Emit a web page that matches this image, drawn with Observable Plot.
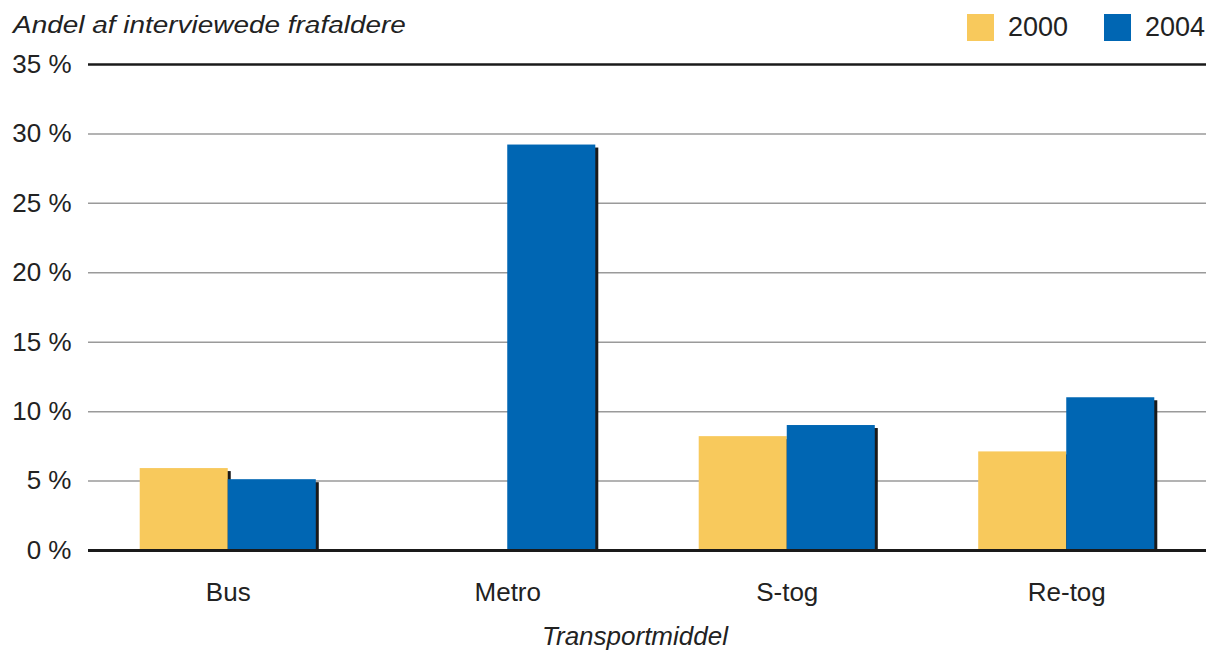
<!DOCTYPE html>
<html><head><meta charset="utf-8">
<script src="https://cdn.jsdelivr.net/npm/d3@7"></script>
<script src="https://cdn.jsdelivr.net/npm/@observablehq/plot@0.6"></script>
<style>
body{margin:0;background:#fff;font-family:"Liberation Sans",Arial,sans-serif;color:#222}
#wrap{position:relative;width:1209px;height:650px;overflow:hidden}
#wrap svg{position:absolute;left:0;top:0}
.t{position:absolute;font-size:26px;line-height:26px;white-space:nowrap}
.i{font-style:italic}
.sw{position:absolute;width:27px;height:27px}
</style></head>
<body>
<div id="wrap">
  <div id="chart"></div>
  <div class="t i" style="left:13px;top:13px;font-size:24.5px;line-height:24.5px;transform:scaleX(1.14);transform-origin:0 0">Andel af interviewede frafaldere</div>
  <div id="legend"></div>
  <div class="t i" style="left:635px;top:623px;transform:translateX(-50%)">Transportmiddel</div>
</div>
<script>
const categories = ["Bus", "Metro", "S-tog", "Re-tog"];
const series = ["2000", "2004"];
const values2000 = [5.9, null, 8.2, 7.1];
const values2004 = [5.1, 29.2, 9.0, 11.0];
const yTicks = [0, 5, 10, 15, 20, 25, 30, 35];
const colors = ["#F8C95C", "#0066B3"];

// each category occupies one unit of the x scale; the two bars of a group share its middle
const groupWidth = 0.63;
const rows = [];
categories.forEach((c, i) => {
  const start = i + (1 - groupWidth) / 2;
  const half = groupWidth / 2;
  [values2000, values2004].forEach((vals, s) => {
    if (vals[i] != null) rows.push({cat: c, year: series[s], value: vals[i], x1: start + s * half, x2: start + (s + 1) * half});
  });
});

const chart = Plot.plot({
  width: 1209,
  height: 650,
  marginTop: 64,
  marginBottom: 100,
  marginLeft: 88,
  marginRight: 3,
  style: {fontFamily: "Liberation Sans, Arial, sans-serif", fontSize: "26px", color: "#222", background: "transparent"},
  x: {domain: [0, categories.length], ticks: categories.map((c, i) => i + 0.5), tickFormat: d => categories[Math.floor(d)], tickSize: 0, tickPadding: 32, label: null},
  y: {domain: [0, 35], ticks: yTicks, tickFormat: d => d + " %", tickSize: 0, tickPadding: 17, label: null},
  color: {domain: series, range: colors},
  marks: [
    Plot.ruleY(yTicks.filter(d => d > 0 && d < 35), {stroke: "#9a9a9a", strokeWidth: 1.5}),
    Plot.ruleY([35], {stroke: "#1a1a1a", strokeWidth: 2.5}),
    Plot.rectY(rows, {x1: "x1", x2: "x2", y: "value", fill: "#1a1a1a", dx: 3, dy: 3, insetBottom: 3}),
    Plot.rectY(rows, {x1: "x1", x2: "x2", y: "value", fill: "year"}),
    Plot.ruleY([0], {stroke: "#1a1a1a", strokeWidth: 3})
  ]
});
document.getElementById("chart").appendChild(chart);

const legend = document.getElementById("legend");
const lx = [967, 1104];
series.forEach((s, i) => {
  const sw = document.createElement("div");
  sw.className = "sw";
  sw.style.left = lx[i] + "px";
  sw.style.top = "14px";
  sw.style.background = colors[i];
  legend.appendChild(sw);
  const t = document.createElement("div");
  t.className = "t";
  t.style.left = (lx[i] + 41) + "px";
  t.style.top = "14px";
  t.style.fontSize = "27px";
  t.style.lineHeight = "27px";
  t.textContent = s;
  legend.appendChild(t);
});
</script>
</body></html>
